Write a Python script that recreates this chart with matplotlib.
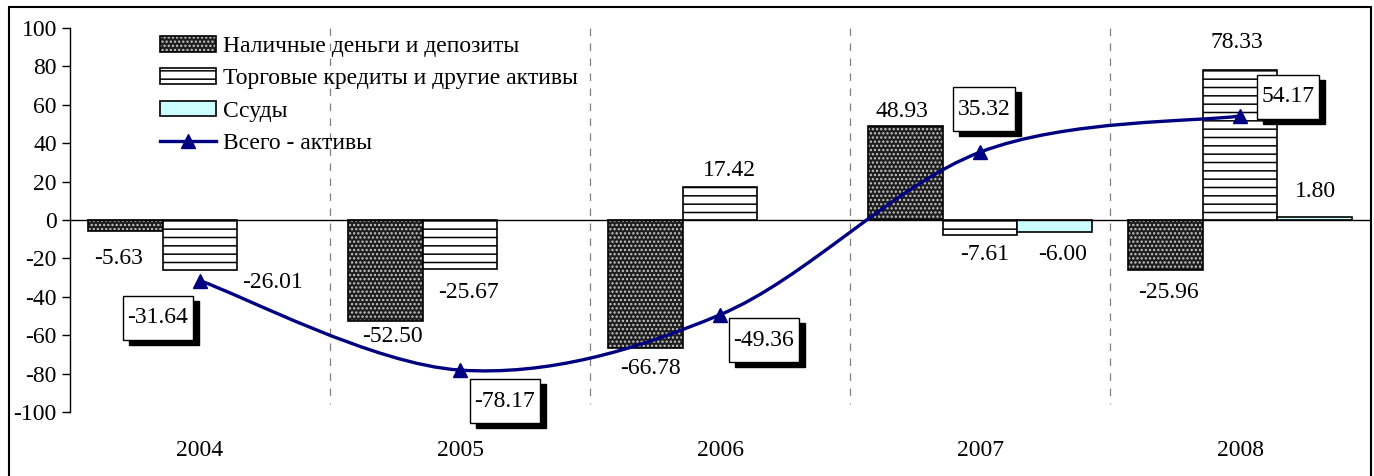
import numpy as np
import matplotlib
matplotlib.use("Agg")
import matplotlib.pyplot as plt
from matplotlib.path import Path
from matplotlib.patches import PathPatch, Rectangle, Patch
from matplotlib.lines import Line2D
from matplotlib.legend_handler import HandlerTuple

# --- данные ---
years = ["2004", "2005", "2006", "2007", "2008"]
cash = [-5.63, -52.50, -66.78, 48.93, -25.96]
trade = [-26.01, -25.67, 17.42, -7.61, 78.33]
loans = [0.0, 0.0, 0.0, -6.00, 1.80]
total = [-31.64, -78.17, -49.36, 35.32, 54.17]

series_names = ["Наличные деньги и депозиты", "Торговые кредиты и другие активы",
                "Ссуды", "Всего - активы"]

# подписи столбцов: (серия, год, x, y) -- положения подписей в координатах данных
bar_label_pos = [
    (0, 0, -0.315, -19.8), (1, 0, 0.277, -32.8),
    (0, 1, 0.742, -60.9), (1, 1, 1.031, -38.0),
    (0, 2, 1.731, -77.6), (1, 2, 2.038, 26.0),
    (0, 3, 2.70, 56.3), (1, 3, 3.019, -18.2), (2, 3, 3.319, -18.2),
    (0, 4, 3.723, -38.0), (1, 4, 3.988, 92.7), (2, 4, 4.292, 14.6),
]
total_label_pos = [(-0.162, -51.0), (1.173, -94.3), (2.169, -62.5),
                   (3.015, 57.8), (4.185, 64.1)]

plt.rcParams['font.family'] = ['Liberation Serif', 'DejaVu Serif']
plt.rcParams['font.size'] = 17
plt.rcParams['axes.unicode_minus'] = False
plt.rcParams['hatch.linewidth'] = 1.1

NAVY = '#000080'
DARK = '#1e1e1e'
DOTS = '#c8c8c8'
CYAN = '#ccffff'

fig = plt.figure(figsize=(13.74, 4.76), dpi=100)
ax = fig.add_axes([70 / 1374, 1 - 412 / 476, 1300 / 1374, 384 / 476])

x = np.arange(len(years))
w = 0.287

# наличные: тёмный фон с белыми точками + чёрный контур
ax.bar(x - w, cash, w, color=DARK, edgecolor=DOTS, hatch='....', linewidth=0, zorder=2)
ax.bar(x - w, cash, w, fill=False, edgecolor='black', linewidth=1.2, zorder=2)
# торговые кредиты: горизонтальная штриховка
ax.bar(x, trade, w, color='white', edgecolor='black', hatch='--', linewidth=1.2, zorder=2)
# ссуды
loans_masked = [v if v != 0 else np.nan for v in loans]
ax.bar(x + w, loans_masked, w, color=CYAN, edgecolor='black', linewidth=1.2, zorder=2)

# сглаженная линия (кривые Безье как в Excel)
pts = np.column_stack([x, total]).astype(float)
ext = np.vstack([pts[0], pts, pts[-1]])
verts = [tuple(pts[0])]
codes = [Path.MOVETO]
for i in range(len(pts) - 1):
    p0, p1, p2, p3 = ext[i], ext[i + 1], ext[i + 2], ext[i + 3]
    c1 = p1 + (p2 - p0) / 6
    c2 = p2 - (p3 - p1) / 6
    verts += [tuple(c1), tuple(c2), tuple(p2)]
    codes += [Path.CURVE4] * 3
ax.add_patch(PathPatch(Path(verts, codes), fill=False, edgecolor=NAVY, linewidth=2.4, zorder=4))
ax.plot(x, total, linestyle='none', marker='^', markersize=10, color=NAVY, zorder=5)

# подписи столбцов
data = [cash, trade, loans]
for s, i, lx, ly in bar_label_pos:
    ax.text(lx, ly, f"{data[s][i]:.2f}", ha='center', va='center', zorder=6)


def tall_box(x0, y0, width, height, mutation_size):
    padx = 0.2 * mutation_size
    pady = 0.5 * mutation_size
    x0 -= padx
    y0 -= pady
    x1 = x0 + width + 2 * padx
    y1 = y0 + height + 2 * pady
    return Path([(x0, y0), (x1, y0), (x1, y1), (x0, y1), (x0, y0)], closed=True)


# подписи линии в рамках с тенью
for v, (lx, ly) in zip(total, total_label_pos):
    ax.annotate(f"{v:.2f}", (lx, ly), xytext=(4.3, -3.6), textcoords='offset points',
                ha='center', va='center', color='black', zorder=6,
                bbox=dict(boxstyle=tall_box, fc='black', ec='black', lw=1))
    ax.annotate(f"{v:.2f}", (lx, ly), ha='center', va='center', zorder=7,
                bbox=dict(boxstyle=tall_box, fc='white', ec='black', lw=1))

# оси
ax.set_xlim(-0.5, 4.5)
ax.set_ylim(-100, 100)
ax.set_yticks(np.arange(-100, 101, 20))
ax.set_xticks(x)
ax.set_xticklabels(years)
ax.tick_params(axis='x', length=0, pad=20)
ax.tick_params(axis='y', length=6, width=1, pad=3.5, direction='out')
for sp in ['top', 'right', 'bottom']:
    ax.spines[sp].set_visible(False)
ax.spines['left'].set_linewidth(1)
ax.axhline(0, color='black', linewidth=1, zorder=3)
for b in x[:-1] + 0.5:
    ax.plot([b, b], [100, -96], color='#808080', linewidth=0.9,
            linestyle=(0, (6, 6)), zorder=1)

# легенда
h_cash = (Patch(facecolor=DARK, edgecolor=DOTS, hatch='....', linewidth=0),
          Patch(fill=False, edgecolor='black', linewidth=1.2))
h_trade = Patch(facecolor='white', edgecolor='black', hatch='--', linewidth=1.2)
h_loans = Patch(facecolor=CYAN, edgecolor='black', linewidth=1.2)
h_total = Line2D([], [], color=NAVY, linewidth=2.4, marker='^', markersize=10)
ax.legend([h_cash, h_trade, h_loans, h_total], series_names,
          handler_map={tuple: HandlerTuple(ndivide=1, pad=0)},
          loc='upper left', bbox_to_anchor=(0.0605, 1.01), frameon=False,
          borderpad=0, handlelength=2.35, handleheight=0.65, handletextpad=0.3,
          labelspacing=0.47, fontsize=17)

# рамка вокруг рисунка
fig.patches.append(Rectangle((9 / 1374, -0.05), 1361.5 / 1374, 1.05 - 7 / 476,
                             transform=fig.transFigure, fill=False,
                             edgecolor='black', linewidth=1.5))

fig.savefig("out.png", dpi=100)
